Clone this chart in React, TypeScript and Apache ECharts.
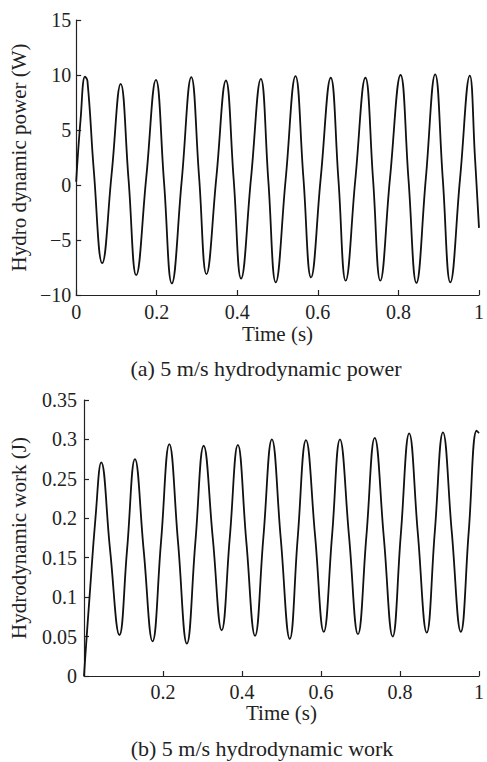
import React, { useEffect, useRef } from "react";
import * as echarts from "echarts";

// (a) hydrodynamic power, W
const powerTime = [
  0, 0.011, 0.022, 0.028, 0.044, 0.0646, 0.088, 0.1105, 0.13, 0.149, 0.174, 0.198,
  0.218, 0.2374, 0.262, 0.2858, 0.305, 0.3234, 0.348, 0.3717, 0.391, 0.4094, 0.434,
  0.4585, 0.477, 0.4954, 0.52, 0.5445, 0.564, 0.583, 0.607, 0.632, 0.651, 0.669,
  0.693, 0.718, 0.737, 0.755, 0.779, 0.8053, 0.825, 0.8446, 0.868, 0.8912, 0.91,
  0.9288, 0.953, 0.9772, 0.99, 1.0,
];
const powerValue = [
  0.3, 6.0, 9.85, 9.45, 1.2, -7.1, 1.0, 9.2, 0.5, -8.2, 0.7, 9.55,
  0.3, -8.95, 0.4, 9.8, 0.8, -8.1, 0.7, 9.5, 0.5, -8.5, 0.6,
  9.65, 0.4, -8.85, 0.5, 9.9, 0.7, -8.4, 0.6, 9.75, 0.5, -8.7,
  0.5, 9.75, 0.5, -8.7, 0.6, 10.0, 0.5, -8.9, 0.6, 10.05, 0.6,
  -8.85, 0.6, 9.95, 2.5, -3.9,
];

// (b) hydrodynamic work, J
const workTime = [
  0, 0.004, 0.014, 0.029, 0.0436, 0.066, 0.0897, 0.109, 0.129, 0.151, 0.1735, 0.195,
  0.216, 0.238, 0.2605, 0.282, 0.303, 0.326, 0.3485, 0.369, 0.3895, 0.411, 0.433,
  0.454, 0.4757, 0.498, 0.521, 0.541, 0.562, 0.585, 0.607, 0.628, 0.648, 0.671,
  0.6936, 0.715, 0.736, 0.759, 0.7814, 0.802, 0.8233, 0.845, 0.8677, 0.888, 0.9088,
  0.931, 0.954, 0.974, 0.994, 1.0,
];
const workValue = [
  0, 0.03, 0.1, 0.2, 0.271, 0.16, 0.052, 0.16, 0.275, 0.16, 0.044, 0.17,
  0.294, 0.17, 0.041, 0.17, 0.292, 0.175, 0.058, 0.175, 0.293, 0.17, 0.051,
  0.175, 0.3, 0.175, 0.047, 0.175, 0.299, 0.178, 0.056, 0.178, 0.3, 0.177,
  0.053, 0.178, 0.302, 0.176, 0.05, 0.179, 0.3076, 0.182, 0.055, 0.182, 0.309,
  0.183, 0.056, 0.183, 0.311, 0.308,
];

const captionA = "(a) 5 m/s hydrodynamic power";
const captionB = "(b) 5 m/s hydrodynamic work";

const FONT = "Liberation Serif";
const TEXT = "#222";
const AXIS = "#222";

function pairs(t: number[], v: number[]) {
  return t.map((x, i) => [x, v[i]]);
}

export default function App() {
  const ref = useRef<HTMLDivElement>(null);
  useEffect(() => {
    if (!ref.current) return;
    const chart = echarts.init(ref.current, null, { renderer: "svg" });
    const axisLine = { show: true, onZero: false, lineStyle: { color: AXIS, width: 1.2 } };
    const axisTick = { show: true, inside: true, length: 5, lineStyle: { color: AXIS, width: 1.2 } };
    const fmtNum = (v: number) => (v < 0 ? "\u2212" + String(-v) : String(v));
    chart.setOption({
      animation: false,
      backgroundColor: "#fff",
      textStyle: { fontFamily: FONT, color: TEXT },
      grid: [
        { left: 72.7, width: 407.3, top: 20, height: 275, containLabel: false },
        { left: 80.3, width: 405.7, top: 400, height: 276, containLabel: false },
      ],
      xAxis: [
        {
          gridIndex: 0, type: "value", min: 0, max: 1, interval: 0.2,
          axisLine, axisTick, splitLine: { show: false },
          axisLabel: { fontSize: 20, color: TEXT, fontFamily: FONT, margin: 7, formatter: (v: number) => String(+v.toFixed(1)) },
          name: "Time (s)", nameLocation: "middle", nameGap: 28,
          nameTextStyle: { fontSize: 21, color: TEXT, fontFamily: FONT },
        },
        {
          gridIndex: 1, type: "value", min: 0, max: 1, interval: 0.2,
          axisLine, axisTick, splitLine: { show: false },
          axisLabel: { fontSize: 20, color: TEXT, fontFamily: FONT, margin: 6, formatter: (v: number) => (v === 0 ? "" : String(+v.toFixed(1))) },
          name: "Time (s)", nameLocation: "middle", nameGap: 26,
          nameTextStyle: { fontSize: 21, color: TEXT, fontFamily: FONT },
        },
      ],
      yAxis: [
        {
          gridIndex: 0, type: "value", min: -10, max: 15, interval: 5,
          axisLine, axisTick, splitLine: { show: false },
          axisLabel: { fontSize: 20, color: TEXT, fontFamily: FONT, margin: 5, formatter: fmtNum },
          name: "Hydro dynamic power (W)", nameLocation: "middle", nameGap: 37,
          nameTextStyle: { fontSize: 21, color: TEXT, fontFamily: FONT },
        },
        {
          gridIndex: 1, type: "value", min: 0, max: 0.35, interval: 0.05,
          axisLine, axisTick, splitLine: { show: false },
          axisLabel: { fontSize: 20, color: TEXT, fontFamily: FONT, margin: 7, formatter: (v: number) => String(+v.toFixed(2)) },
          name: "Hydrodynamic work (J)", nameLocation: "middle", nameGap: 55,
          nameTextStyle: { fontSize: 21, color: TEXT, fontFamily: FONT },
        },
      ],
      series: [
        {
          type: "line", xAxisIndex: 0, yAxisIndex: 0, data: pairs(powerTime, powerValue),
          smooth: 0.45, showSymbol: false, lineStyle: { color: "#111", width: 1.8 }, clip: true,
        },
        {
          type: "line", xAxisIndex: 1, yAxisIndex: 1, data: pairs(workTime, workValue),
          smooth: 0.45, showSymbol: false, lineStyle: { color: "#111", width: 1.8 }, clip: false,
        },
      ],
      graphic: [
        {
          type: "text", x: 266, y: 368,
          style: { text: captionA, fontSize: 22, fontFamily: FONT, fill: TEXT, textAlign: "center", textVerticalAlign: "middle" },
        },
        {
          type: "text", x: 262, y: 748,
          style: { text: captionB, fontSize: 22, fontFamily: FONT, fill: TEXT, textAlign: "center", textVerticalAlign: "middle" },
        },
      ],
    });
    return () => chart.dispose();
  }, []);
  return (
    <div
      ref={ref}
      style={{ position: "fixed", left: 0, top: 0, width: 487, height: 762, background: "#fff" }}
    />
  );
}
